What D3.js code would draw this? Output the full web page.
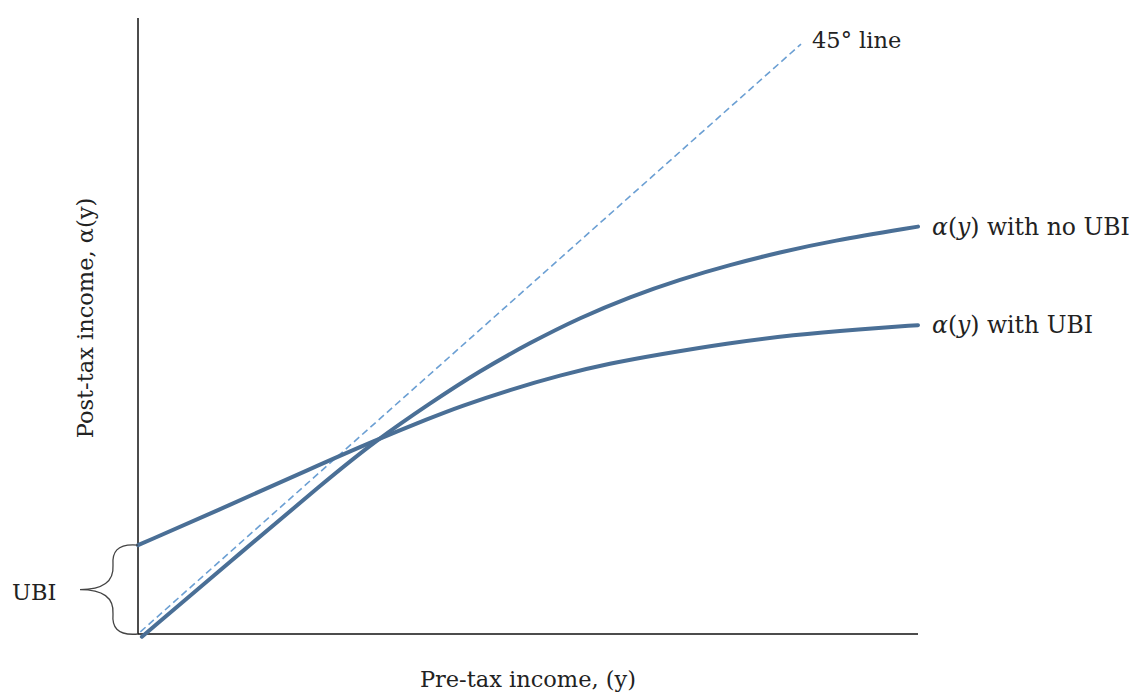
<!DOCTYPE html>
<html><head><meta charset="utf-8">
<script src="https://cdn.jsdelivr.net/npm/d3@7"></script>
<style>body{margin:0;background:#fff}svg{display:block}text{font-family:"DejaVu Serif",serif;fill:#222}</style>
</head><body><svg id="c" width="1131" height="693"></svg>
<script>
const diagonal = [[0.3,0.3],[85,85]];
const withUBI_x = [0, 11.8, 22.1, 30.4, 37.4, 41.3, 47.7, 54.1, 60.5, 66.9, 75.5, 84, 92.6, 100];
const withUBI_y = [12.8, 18.6, 23.8, 27.9, 31.1, 32.8, 35.2, 37.3, 39.0, 40.3, 41.9, 43.1, 43.9, 44.5];
const noUBI_x = [0.5, 12, 24, 30.4, 37.5, 43.8, 50.3, 56.7, 63.1, 69.5, 75.9, 82.3, 88.7, 100];
const noUBI_y = [-0.4, 10.6, 22.0, 27.8, 33.3, 37.9, 42.0, 45.6, 48.6, 51.1, 53.2, 55.0, 56.6, 58.7];
const labels = {diag:"45° line", noUBI:" with no UBI", UBI:" with UBI", xAxis:"Pre-tax income, (y)", yAxis:"Post-tax income, α(y)", brace:"UBI"};

const svg = d3.select("#c");
const x = d3.scaleLinear().domain([0,100]).range([138,918]);
const y = d3.scaleLinear().domain([0,100]).range([634,-60]);
const yTop = y.invert(18);

svg.append("line").attr("x1",x(0)).attr("x2",x(0)).attr("y1",y(0)).attr("y2",y(yTop)).attr("stroke","#111").attr("stroke-width",1.5);
svg.append("line").attr("x1",x(0)).attr("x2",x(100)).attr("y1",y(0)).attr("y2",y(0)).attr("stroke","#111").attr("stroke-width",1.5);

const line = d3.line().x(d=>x(d[0])).y(d=>y(d[1]));
svg.append("path").attr("d",line(diagonal)).attr("fill","none").attr("stroke","#6b9fd3").attr("stroke-width",1.6).attr("stroke-dasharray","7,4");

const curve = d3.line().x(d=>x(d[0])).y(d=>y(d[1])).curve(d3.curveBasis);
svg.append("path").attr("d",curve(withUBI_x.map((v,i)=>[v,withUBI_y[i]]))).attr("fill","none").attr("stroke","#4a6f96").attr("stroke-width",4).attr("stroke-linecap","round");
svg.append("path").attr("d",curve(noUBI_x.map((v,i)=>[v,noUBI_y[i]]))).attr("fill","none").attr("stroke","#4a6f96").attr("stroke-width",4).attr("stroke-linecap","round");

const bx = x(0), bt = y(withUBI_y[0]), bb = y(0), bm = (bt+bb)/2, tip = 80;
const bp = `M${bx},${bt} C${bx-22},${bt-2} ${bx-26},${bt+8} ${bx-25},${bt+20} C${bx-24},${bm-8} ${bx-35},${bm} ${tip},${bm} C${bx-35},${bm} ${bx-24},${bm+8} ${bx-25},${bb-20} C${bx-26},${bb-8} ${bx-22},${bb+2} ${bx},${bb}`;
svg.append("path").attr("d",bp).attr("fill","none").attr("stroke","#444").attr("stroke-width",1.3);
svg.append("text").attr("x",12).attr("y",600).attr("font-size",22.5).text(labels.brace);

svg.append("text").attr("x",812).attr("y",48).attr("font-size",22.5).text(labels.diag);
function alphaLabel(yy, rest){
  const t = svg.append("text").attr("x",932).attr("y",yy).attr("font-size",23.5);
  t.append("tspan").attr("font-style","italic").text("α");
  t.append("tspan").text("(");
  t.append("tspan").attr("font-style","italic").text("y");
  t.append("tspan").text(")");
  t.append("tspan").text(rest);
}
alphaLabel(235, labels.noUBI);
alphaLabel(333, labels.UBI);

svg.append("text").attr("x",528).attr("y",687).attr("text-anchor","middle").attr("font-size",22.5).text(labels.xAxis);
svg.append("text").attr("transform","translate(93,318) rotate(-90)").attr("text-anchor","middle").attr("font-size",22.5).text(labels.yAxis);
</script></body></html>
